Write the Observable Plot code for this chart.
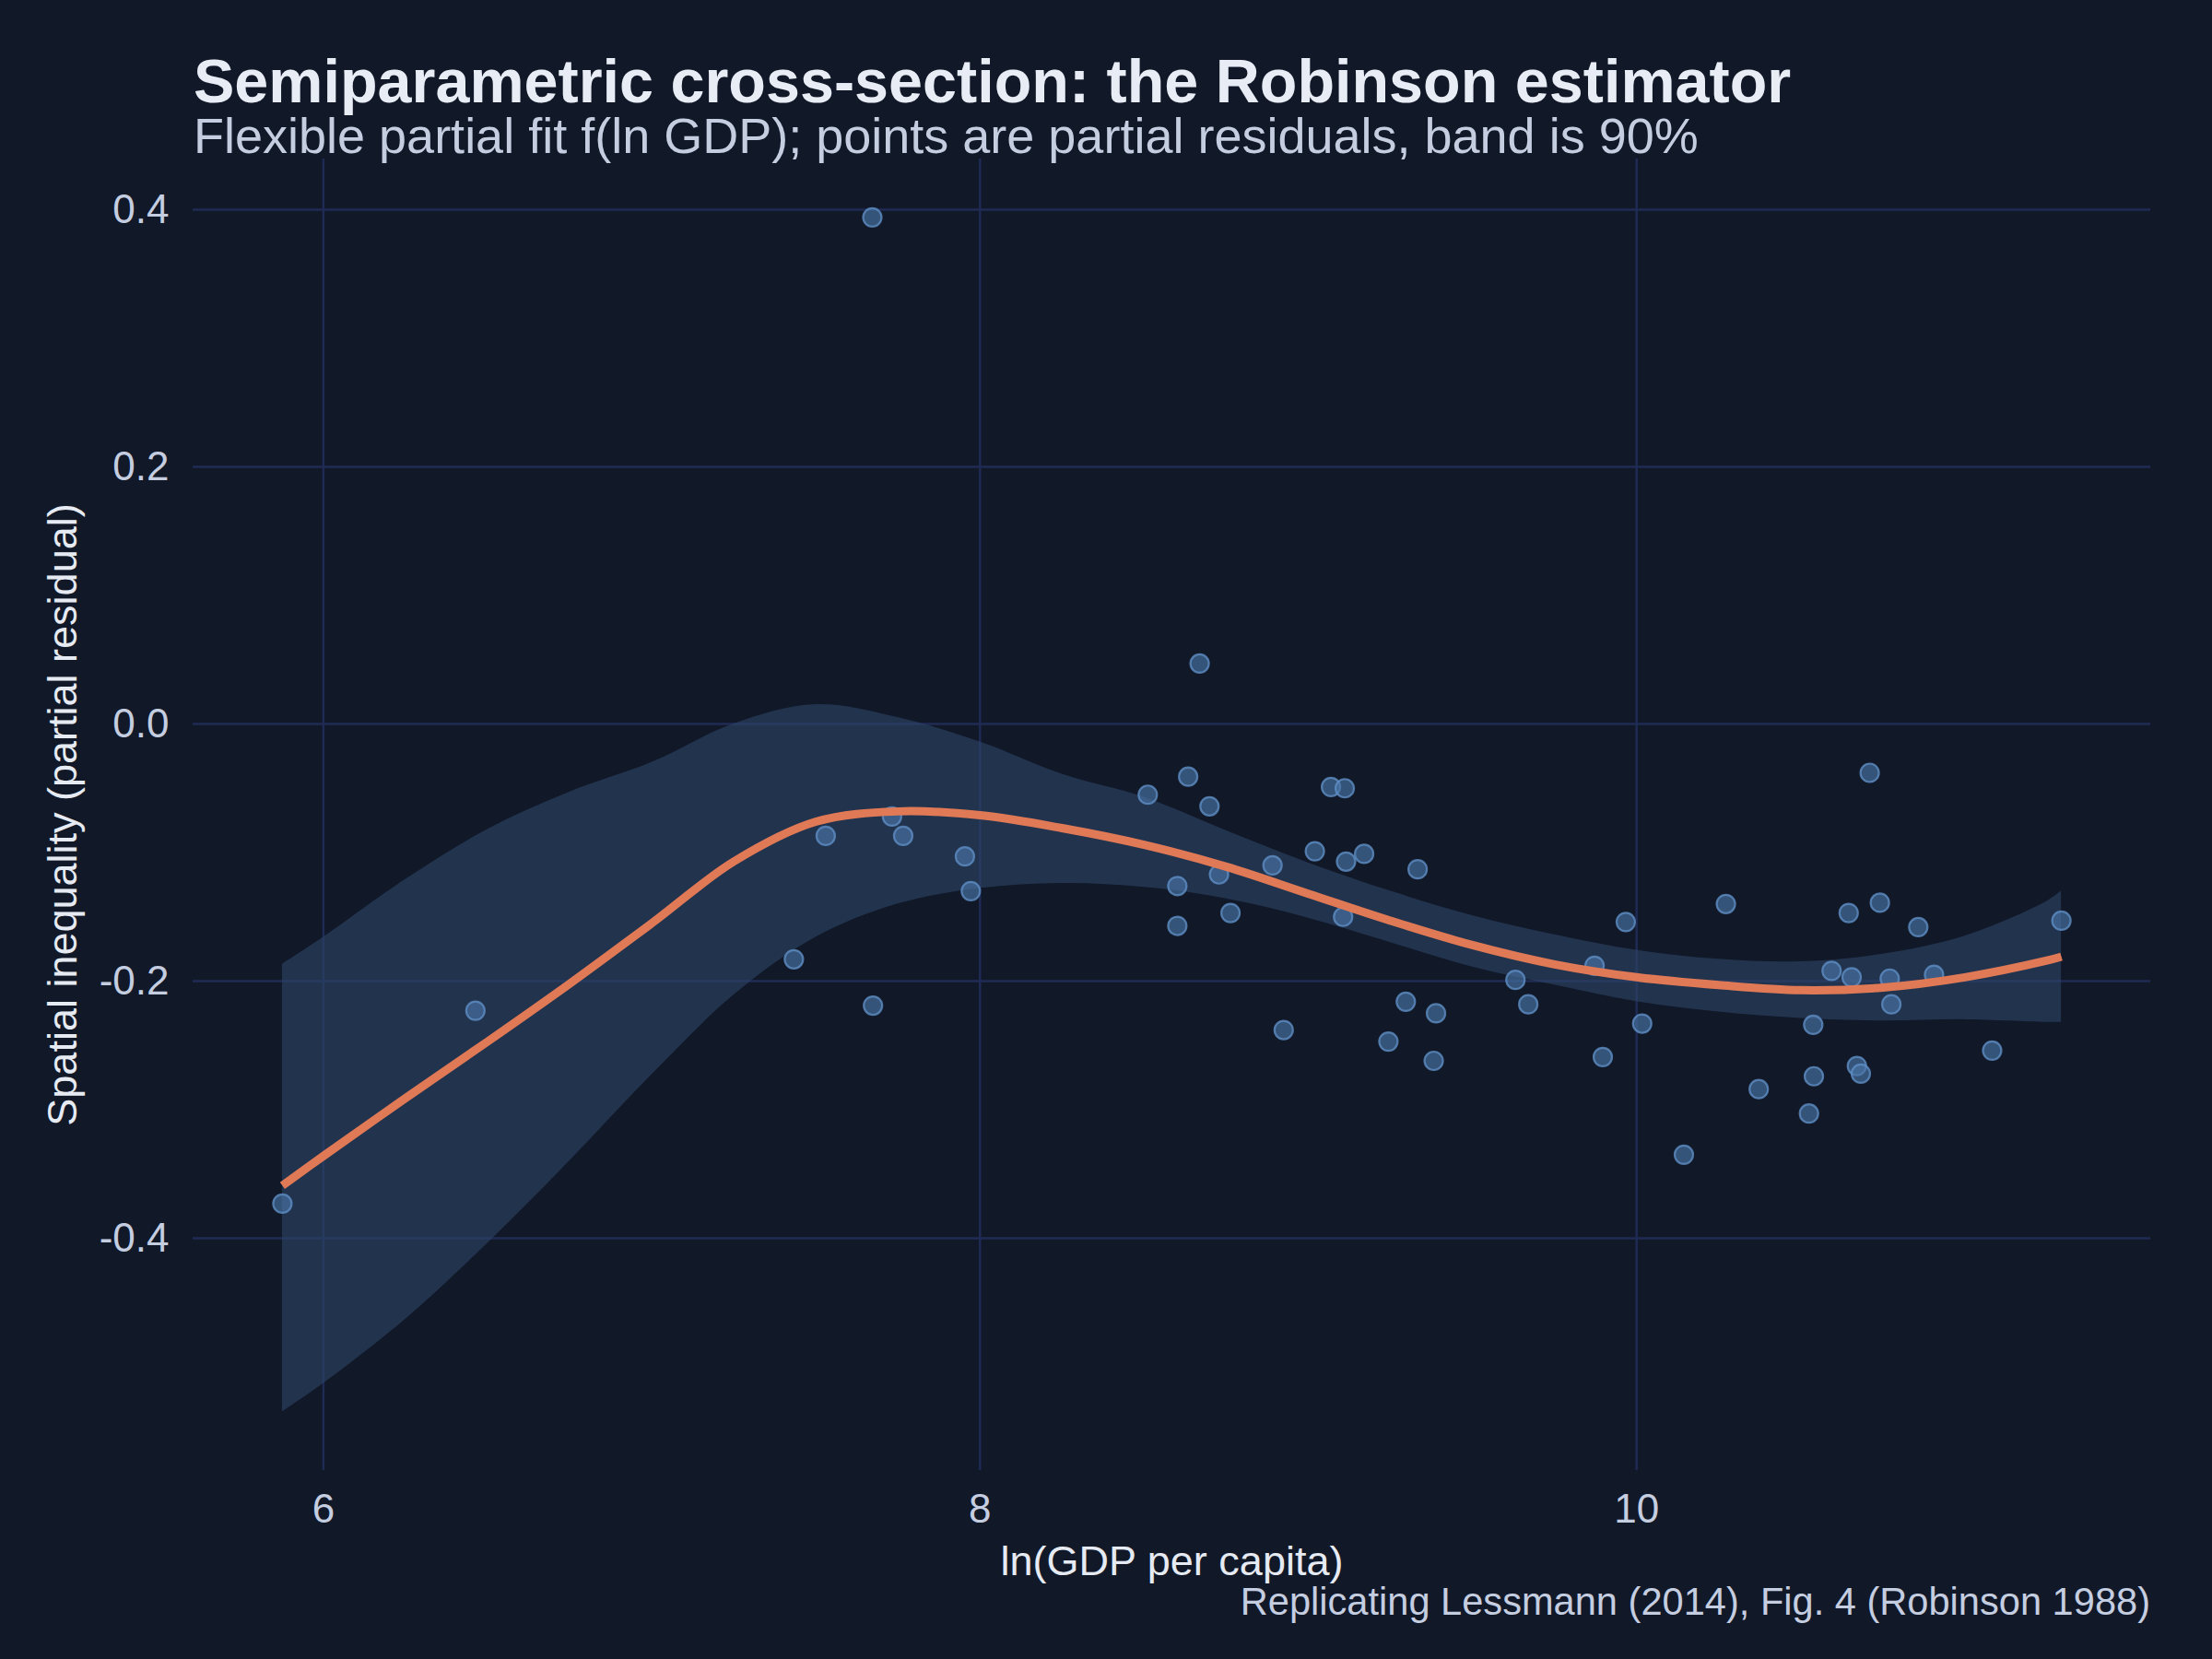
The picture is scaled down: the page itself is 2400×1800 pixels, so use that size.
<!DOCTYPE html>
<html>
<head>
<meta charset="utf-8">
<script src="https://cdn.jsdelivr.net/npm/d3@7"></script>
<script src="https://cdn.jsdelivr.net/npm/@observablehq/plot@0.6"></script>
<style>
  html, body { margin: 0; padding: 0; background: #111827; }
  #wrap { position: relative; width: 2400px; height: 1800px; background: #111827; font-family: "Liberation Sans", Arial, Helvetica, sans-serif; }
  #head { position: relative; height: 150px; }
  #title { position: absolute; left: 210px; top: 60px; font-size: 66.5px; line-height: 56px; font-weight: bold; color: #e8ecf5; white-space: nowrap; }
  #subtitle { position: absolute; left: 210px; top: 124px; font-size: 54px; line-height: 46px; color: #c5cde0; white-space: nowrap; }
  #caption { position: absolute; right: 67px; top: 1717px; font-size: 41.6px; line-height: 41px; color: #c5cde0; white-space: nowrap; }
  #chart svg { display: block; }
</style>
</head>
<body>
<div id="wrap">
  <div id="head">
    <div id="title">Semiparametric cross-section: the Robinson estimator</div>
    <div id="subtitle">Flexible partial fit f(ln GDP); points are partial residuals, band is 90%</div>
  </div>
  <div id="chart"></div>
  <div id="caption">Replicating Lessmann (2014), Fig. 4 (Robinson 1988)</div>
</div>
<script>
// Partial residuals (points)
const lnGDP = [5.875, 6.463, 7.433, 7.674, 7.530, 7.732, 7.766, 7.954, 7.972, 8.511, 7.672,
  8.669, 8.634, 8.699, 9.069, 9.111, 9.020, 9.170, 9.115, 8.891, 9.333, 8.728, 8.601, 8.763, 9.106, 8.601,
  9.967, 9.872, 9.631, 9.670, 9.297, 9.389, 10.017, 8.925, 9.244, 9.897, 9.382, 10.144,
  10.710, 10.272, 10.741, 10.646, 10.858, 11.294, 10.594, 10.655, 10.771, 10.906, 10.776, 10.538,
  11.083, 10.671, 10.683, 10.540, 10.372, 10.525];
const residual = [-0.373, -0.223, -0.183, -0.219, -0.087, -0.072, -0.087, -0.103, -0.130, -0.055, 0.394,
  0.047, -0.041, -0.064, -0.049, -0.050, -0.099, -0.101, -0.107, -0.110, -0.113, -0.117, -0.126, -0.147, -0.150, -0.157,
  -0.154, -0.188, -0.199, -0.218, -0.216, -0.225, -0.233, -0.238, -0.247, -0.259, -0.262, -0.335,
  -0.038, -0.140, -0.139, -0.147, -0.158, -0.153, -0.192, -0.197, -0.198, -0.195, -0.218, -0.234,
  -0.254, -0.266, -0.272, -0.274, -0.284, -0.303];

// Fitted partial function and 90% band
const fitX  = [5.875, 6.0, 6.25, 6.5, 6.75, 7.0, 7.25, 7.5, 7.75, 8.0, 8.25, 8.5, 8.75, 9.0, 9.25, 9.5, 9.75, 10.0, 10.25, 10.5, 10.75, 11.0, 11.25, 11.294];
const fitY  = [-0.359, -0.336, -0.291, -0.247, -0.202, -0.155, -0.107, -0.076, -0.068, -0.071, -0.081, -0.094, -0.111, -0.132, -0.153, -0.172, -0.187, -0.197, -0.203, -0.207, -0.205, -0.197, -0.184, -0.181];
const bandHi = [-0.187, -0.166, -0.121, -0.082, -0.053, -0.030, 0.000, 0.015, 0.005, -0.014, -0.039, -0.057, -0.083, -0.108, -0.130, -0.149, -0.164, -0.176, -0.183, -0.185, -0.179, -0.165, -0.138, -0.130];
const bandLo = [-0.535, -0.513, -0.463, -0.404, -0.340, -0.273, -0.211, -0.166, -0.140, -0.128, -0.124, -0.127, -0.136, -0.151, -0.170, -0.189, -0.203, -0.216, -0.224, -0.229, -0.231, -0.230, -0.232, -0.232];

const xTicks = [6, 8, 10];
const yTicks = [-0.4, -0.2, 0.0, 0.2, 0.4];
const xLabel = "ln(GDP per capita)";
const yLabel = "Spatial inequality (partial residual)";

const points = lnGDP.map((x, i) => ({x, y: residual[i]}));
const fit = fitX.map((x, i) => ({x, y: fitY[i], lo: bandLo[i], hi: bandHi[i]}));

const gridColor = "#1f2b55";

const chart = Plot.plot({
  width: 2400,
  height: 1575,
  marginTop: 22,
  marginBottom: 130,
  marginLeft: 209,
  marginRight: 67,
  style: {background: "#111827", color: "#c5cde0", fontFamily: '"Liberation Sans", Arial, Helvetica, sans-serif', overflow: "visible"},
  x: {domain: [5.603, 11.566]},
  y: {domain: [-0.5806, 0.4394]},
  marks: [
    Plot.gridX(xTicks, {stroke: gridColor, strokeOpacity: 1, strokeWidth: 2.5}),
    Plot.gridY(yTicks, {stroke: gridColor, strokeOpacity: 1, strokeWidth: 2.5}),
    Plot.areaY(fit, {x: "x", y1: "lo", y2: "hi", fill: "#2d4468", fillOpacity: 0.62, curve: "catmull-rom"}),
    Plot.dot(points, {x: "x", y: "y", r: 10, fill: "#4a74a6", fillOpacity: 0.65, stroke: "#5f8fc6", strokeOpacity: 0.8, strokeWidth: 2.2}),
    Plot.line(fit, {x: "x", y: "y", stroke: "#e07a56", strokeWidth: 9, curve: "catmull-rom", strokeLinecap: "butt"}),
    Plot.axisX(xTicks, {tickSize: 0, tickPadding: 25, fontSize: 44, label: null, fill: "#c5cde0", tickFormat: d => String(d)}),
    Plot.axisY(yTicks, {tickSize: 0, tickPadding: 26, fontSize: 44, label: null, fill: "#c5cde0", tickFormat: d => d.toFixed(1)}),
    Plot.text([xLabel], {frameAnchor: "bottom", dy: 99, fontSize: 45, fill: "#e6eaf2", lineAnchor: "middle", textAnchor: "middle"}),
    Plot.text([yLabel], {frameAnchor: "left", dx: -141, rotate: -90, fontSize: 45, fill: "#e6eaf2", lineAnchor: "middle", textAnchor: "middle"})
  ]
});
document.getElementById("chart").appendChild(chart);
</script>
</body>
</html>
